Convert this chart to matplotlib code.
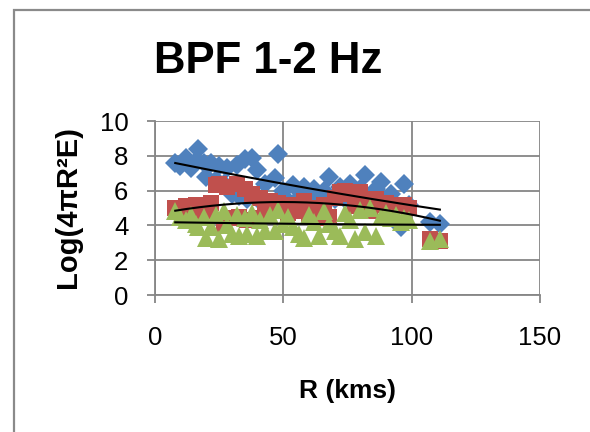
import numpy as np
import matplotlib
matplotlib.use("Agg")
import matplotlib.pyplot as plt
from matplotlib.patches import Rectangle

# distances (km) shared by the three series
r_kms = [8, 10, 12, 14, 16, 17, 19, 20, 22, 24, 25, 27, 28, 30, 32, 33, 35, 36, 38, 40,
         41, 43, 45, 47, 48, 50, 52, 54, 56, 58, 60, 62, 64, 66, 68, 70, 72, 74, 76, 78,
         80, 82, 84, 86, 88, 90, 92, 94, 96, 97, 99, 107, 111]

blue_vals = [7.6, 7.4, 7.9, 7.3, 7.7, 8.4, 7.6, 6.8, 7.6, 6.6, 7.4, 6.4, 7.3, 5.8, 7.5, 5.7,
             7.8, 5.5, 7.9, 7.2, 5.4, 6.4, 5.3, 6.7, 8.1, 6.0, 5.4, 6.3, 5.6, 6.2, 5.4, 6.1,
             5.4, 6.0, 6.8, 5.5, 6.2, 5.5, 6.4, 5.5, 6.1, 6.9, 5.4, 6.1, 6.5, 5.3, 5.8, 5.1,
             3.9, 6.4, 5.2, 4.2, 4.1]

red_vals = [5.0, 4.8, 5.1, 4.9, 5.2, 4.7, 4.8, 5.0, 5.3, 6.3, 6.4, 4.0, 6.2, 4.4, 6.4, 4.5,
            6.1, 4.3, 5.8, 4.4, 5.6, 4.9, 5.4, 4.8, 5.3, 4.9, 4.7, 5.2, 4.8, 5.4, 4.6, 5.0,
            4.4, 5.2, 4.5, 5.6, 5.9, 6.0, 5.8, 5.1, 5.9, 5.5, 4.8, 5.5, 5.2, 5.3, 4.9, 5.2,
            5.1, 5.2, 5.0, 3.2, 3.1]

green_vals = [4.8, 4.5, 4.3, 4.6, 4.1, 3.9, 4.5, 3.3, 3.9, 4.6, 3.2, 4.8, 4.0, 3.5, 4.6, 3.4,
              4.4, 3.5, 4.7, 3.4, 4.3, 3.7, 4.6, 3.7, 4.9, 4.1, 4.5, 3.9, 3.5, 3.3, 4.6, 4.2,
              3.4, 4.8, 4.1, 3.7, 3.4, 4.7, 4.3, 3.2, 4.9, 3.6, 5.0, 3.4, 4.5, 4.7, 4.4, 4.6,
              4.2, 4.4, 4.3, 3.1, 3.2]

x_ticks = [0, 50, 100, 150]
y_ticks = [0, 2, 4, 6, 8, 10]

plt.rcParams['font.family'] = ['Liberation Sans', 'DejaVu Sans']

fig = plt.figure(figsize=(5.9, 4.32), dpi=100)
ax = fig.add_axes([0.2622, 0.3171, 0.6531, 0.4028])

x = np.array(r_kms, dtype=float)
ax.plot(x, blue_vals, linestyle='none', marker='D', ms=10.2, mew=0, color='#4F81BD', zorder=3)
ax.plot(x, red_vals, linestyle='none', marker='s', ms=11.5, mew=0, color='#C0504D', zorder=4)
ax.plot(x, green_vals, linestyle='none', marker='^', ms=13, mew=0, color='#9BBB59', zorder=5)

# quadratic trend lines, as in the spreadsheet
xx = np.linspace(x.min(), x.max(), 200)
for vals in (blue_vals, red_vals, green_vals):
    coef = np.polyfit(x, vals, 2)
    ax.plot(xx, np.polyval(coef, xx), color='black', lw=1.5, zorder=6)

ax.set_xlim(0, 150)
ax.set_ylim(0, 10)
ax.set_xticks(x_ticks)
ax.set_yticks(y_ticks)
ax.grid(True, color='#868686', lw=1.3)
ax.set_axisbelow(True)
for s in ax.spines.values():
    s.set_visible(False)
ax.spines['left'].set_visible(True)
ax.spines['bottom'].set_visible(True)
ax.spines['left'].set_color('#868686')
ax.spines['bottom'].set_color('#868686')
ax.spines['left'].set_linewidth(1.3)
ax.spines['bottom'].set_linewidth(1.3)
ax.tick_params(axis='x', direction='out', length=6, width=1.3, color='#868686', labelsize=18.5, pad=16)
ax.tick_params(axis='y', direction='out', length=6, width=1.3, color='#868686', labelsize=18.5, pad=13)

fig.text(0.454, 0.857, 'BPF 1-2 Hz', fontsize=31.5, fontweight='bold', ha='center', va='center')
fig.text(0.589, 0.095, 'R (kms)', fontsize=19, fontweight='bold', ha='center', va='center')
fig.text(0.115, 0.52, 'Log(4πR²E)', fontsize=21, fontweight='bold', ha='center', va='center',
         rotation=90)

fig.patches.append(Rectangle((14 / 590, -0.1), 1.2, 1.1 + 0.9769 - 1.0, transform=fig.transFigure,
                             fill=False, edgecolor='#8a8a8a', lw=1.6))

fig.savefig('out.png', dpi=100)
